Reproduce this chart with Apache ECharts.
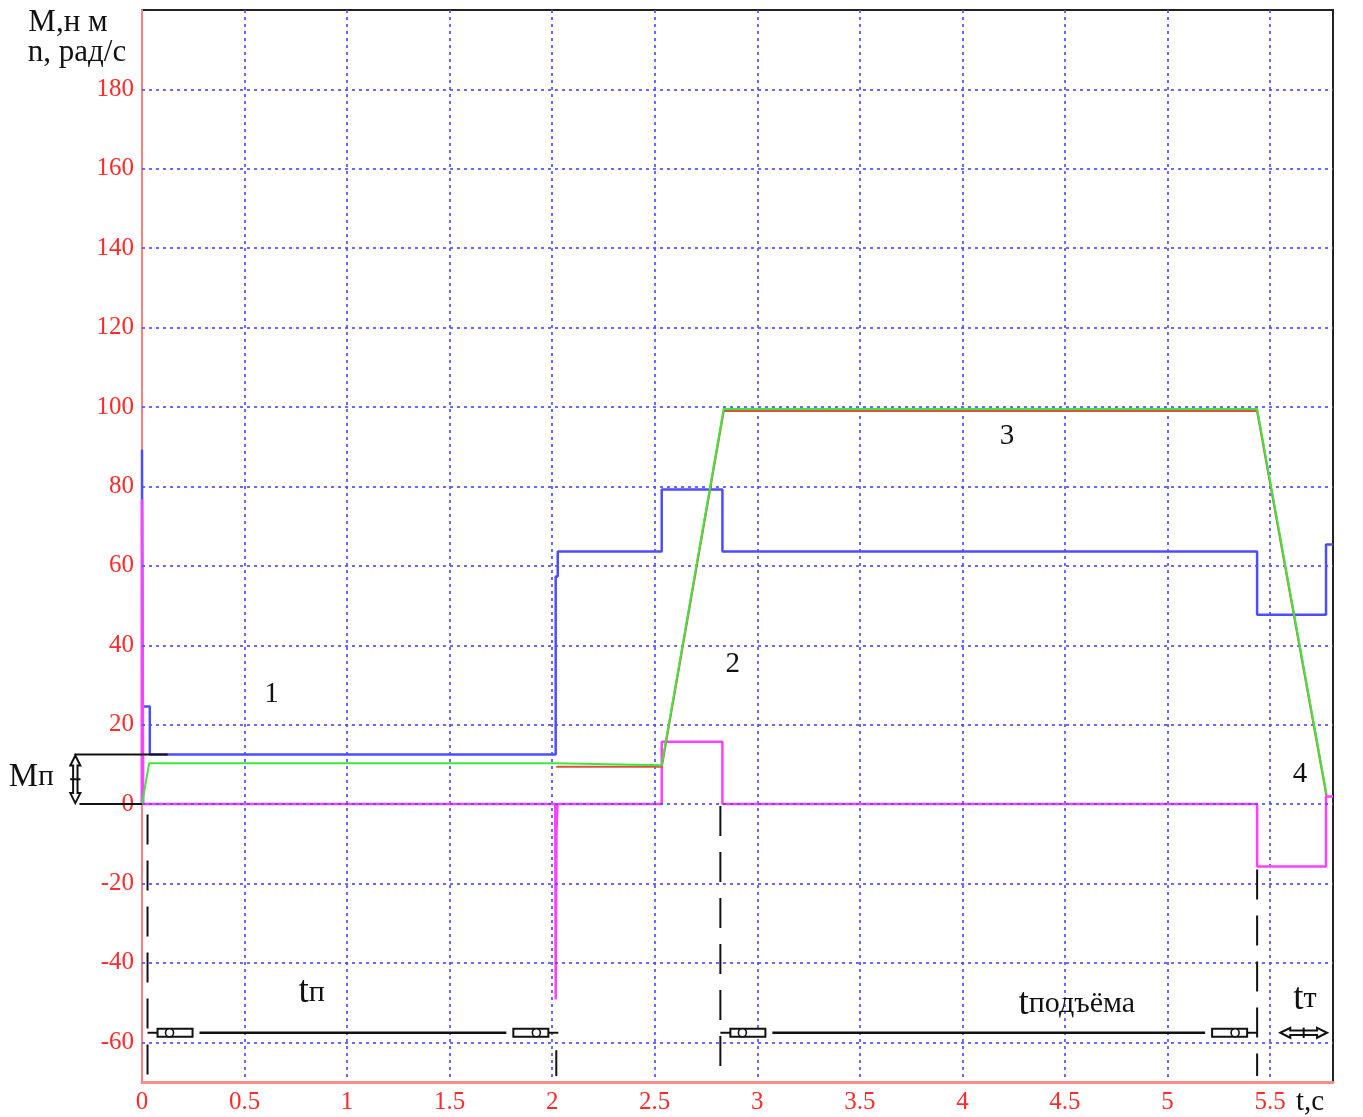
<!DOCTYPE html>
<html>
<head>
<meta charset="utf-8">
<script src="https://cdn.jsdelivr.net/npm/echarts@6/dist/echarts.min.js"></script>
<style>
  html, body { margin: 0; padding: 0; background: #fff; }
  #chart { width: 1363px; height: 1117px; }
</style>
</head>
<body>
<div id="chart"></div>
<script>
// Axis ticks: time t (s) and torque / speed values
const timeTicks = [0, 0.5, 1, 1.5, 2, 2.5, 3, 3.5, 4, 4.5, 5, 5.5];
const valueTicks = [-60, -40, -20, 0, 20, 40, 60, 80, 100, 120, 140, 160, 180];

// Motor torque M (blue)
const torqueT = [0, 0, 0.003, 0.038, 0.038, 2.017, 2.017, 2.027, 2.027, 2.534, 2.534, 2.83, 2.83, 5.437, 5.437, 5.773, 5.773, 5.807];
const torqueV = [0, 89.3, 24.6, 24.6, 12.5, 12.5, 57.3, 57.3, 63.6, 63.6, 79.2, 79.2, 63.6, 63.6, 47.7, 47.7, 65.4, 65.4];

// Angular speed n (green) and set-point speed (red)
const speedT = [0, 0.035, 2.017, 2.02, 2.534, 2.836, 5.437, 5.775];
const speedV = [0, 10.3, 10.3, 9.8, 9.8, 99.5, 99.5, 2.6];
const refSpeedT = [2.02, 2.534, 2.836, 5.437, 5.775];
const refSpeedV = [9.4, 9.4, 99.0, 99.0, 2.2];

// Dynamic torque (magenta)
const dynT = [0, 0, 0.006, 2.015, 2.017, 2.021, 2.026, 2.026, 2.534, 2.534, 2.83, 2.83, 5.437, 5.437, 5.773, 5.773, 5.807];
const dynV = [0, 76.7, 0, 0, -49.2, -6.4, -6.4, 0, 0, 15.7, 15.7, 0, 0, -15.7, -15.7, 1.9, 1.9];

// Dashed guide lines: time, upper and lower value
const guideT = [0.027, 2.02, 2.82, 5.437];
const guideTop = [-2.6, -62.0, -0.5, -16.5];
const guideBottom = [-68.5, -68.5, -69.5, -68.5];

// Interval arrows (tп, tподъёма, tт): start, end, level
const spanStart = [0.027, 2.82, 5.55];
const spanEnd = [2.03, 5.437, 5.778];
const spanLevel = [-57.6, -57.6, -57.6];

// Static torque bracket Mп: from, to, level
const mpFrom = [-0.33, -0.305];
const mpTo = [0.125, 0];
const mpLevel = [12.5, 0];

// Text notes
const noteText = ['1', '2', '3', '4', '{a|t}{b|п}', '{a|t}{b|подъёма}', '{a|t}{b|т}', '{m|М}{n|п}', 't,c'];
const noteT = [0.632, 2.88, 4.217, 5.646, 0.827, 4.558, 5.67, -0.54, 5.695];
const noteV = [27.6, 35.2, 92.6, 7.4, -47.5, -50.5, -49.2, 6.7, -75.2];

const SERIF = '"Liberation Serif", "DejaVu Serif", serif';
const GRID_BLUE = 'rgba(80, 80, 255, 0.85)';

const zip = (xs, ys) => xs.map((x, i) => [x, ys[i]]);

const chart = echarts.init(document.getElementById('chart'), null, { renderer: 'canvas' });

function doubleArrow(x1, y1, x2, y2) {
  // hollow double-headed arrow between two pixel points
  const dx = x2 - x1, dy = y2 - y1;
  const len = Math.hypot(dx, dy);
  const ux = dx / len, uy = dy / len;
  const nx = -uy, ny = ux;
  const head = 10, hw = 5, sw = 2.2;
  const P = (a, b) => [x1 + ux * a + nx * b, y1 + uy * a + ny * b];
  const pts = [P(0, 0), P(head, -hw), P(head, -sw), P(len - head, -sw), P(len - head, -hw), P(len, 0),
               P(len - head, hw), P(len - head, sw), P(head, sw), P(head, hw)];
  const m1 = P(len / 2, -sw - 3), m2 = P(len / 2, sw + 3);
  return [
    { type: 'polygon', shape: { points: pts }, style: { fill: '#fff', stroke: '#111', lineWidth: 2 } },
    { type: 'line', shape: { x1: m1[0], y1: m1[1], x2: m2[0], y2: m2[1] }, style: { stroke: '#111', lineWidth: 2 } }
  ];
}

function blockEnd(tip, y, dir) {
  // small hollow block arrow pointing towards `tip` (dir = +1 points left, -1 points right)
  const els = [];
  const a = tip + dir * 10, b = tip + dir * 45;
  els.push({ type: 'line', shape: { x1: tip, y1: y, x2: a, y2: y }, style: { stroke: '#111', lineWidth: 2 } });
  els.push({ type: 'rect', shape: { x: Math.min(a, b), y: y - 4, width: 35, height: 8 },
             style: { fill: '#fff', stroke: '#111', lineWidth: 2 } });
  els.push({ type: 'circle', shape: { cx: tip + dir * 22, cy: y, r: 4 },
             style: { fill: '#fff', stroke: '#111', lineWidth: 1.6 } });
  return els;
}

const option = {
  animation: false,
  backgroundColor: '#fff',
  grid: {
    left: 142, right: 30, top: 10, bottom: 35,
    show: true, borderColor: '#222', borderWidth: 2, backgroundColor: 'transparent'
  },
  xAxis: {
    type: 'value', min: 0, max: 5.807, interval: 0.5,
    axisLine: { show: true, onZero: false, lineStyle: { color: '#ff8a8a', width: 3 } },
    axisTick: { show: false },
    axisLabel: {
      color: '#ff2a2a', fontFamily: SERIF, fontSize: 25, margin: 8,
      showMaxLabel: false,
      formatter: v => (timeTicks.some(t => Math.abs(t - v) < 1e-6) ? String(v) : '')
    },
    splitLine: { show: true, showMinLine: false, showMaxLine: false,
                 lineStyle: { color: GRID_BLUE, width: 2, type: [3, 4] } }
  },
  yAxis: {
    type: 'value', min: -70, max: 200, interval: 10,
    axisLine: { show: true, onZero: false, lineStyle: { color: '#ff8080', width: 2 } },
    axisTick: { show: false },
    axisLabel: {
      color: '#ff2a2a', fontFamily: SERIF, fontSize: 25, margin: 8,
      formatter: v => (valueTicks.indexOf(v) >= 0 ? String(v) : '')
    },
    splitLine: { show: false }
  },
  graphic: [
    { type: 'text', x: 68, y: 23, style: { text: 'M,н м', font: '31px ' + SERIF, fill: '#111', align: 'center', verticalAlign: 'middle' } },
    { type: 'text', x: 77, y: 53, style: { text: 'n, рад/с', font: '31px ' + SERIF, fill: '#111', align: 'center', verticalAlign: 'middle' } }
  ],
  series: [
    {
      // horizontal grid
      type: 'line', data: [], z: 1, silent: true,
      markLine: {
        silent: true, symbol: ['none', 'none'], label: { show: false },
        lineStyle: { color: GRID_BLUE, width: 2, type: [3, 4] },
        data: valueTicks.map(v => ({ yAxis: v }))
      }
    },
    {
      name: 'M', type: 'line', z: 3, data: zip(torqueT, torqueV),
      symbol: 'none', lineStyle: { color: '#4d4dff', width: 2.5 }
    },
    {
      name: 'Mдин', type: 'line', z: 4, data: zip(dynT, dynV),
      symbol: 'none', lineStyle: { color: '#ff40ff', width: 2.5 }
    },
    {
      name: 'n0', type: 'line', z: 5, data: zip(refSpeedT, refSpeedV),
      symbol: 'none', lineStyle: { color: '#e0503c', width: 2.2 }
    },
    {
      name: 'n', type: 'line', z: 6, data: zip(speedT, speedV),
      symbol: 'none', lineStyle: { color: '#3ee63e', width: 2 }
    },
    {
      // dashed guide lines
      type: 'custom', z: 7, clip: false, silent: true,
      data: guideT.map((t, i) => [t, guideTop[i], guideBottom[i]]),
      renderItem(params, api) {
        const a = api.coord([api.value(0), api.value(1)]);
        const b = api.coord([api.value(0), api.value(2)]);
        return { type: 'line', shape: { x1: a[0], y1: a[1], x2: b[0], y2: b[1] },
                 style: { stroke: '#111', lineWidth: 2, lineDash: [30, 16] } };
      }
    },
    {
      // interval arrows
      type: 'custom', z: 8, clip: false, silent: true,
      data: spanStart.map((t, i) => [t, spanLevel[i], spanEnd[i]]),
      renderItem(params, api) {
        const a = api.coord([api.value(0), api.value(1)]);
        const b = api.coord([api.value(2), api.value(1)]);
        const y = a[1];
        let children;
        if (b[0] - a[0] < 80) {
          children = doubleArrow(a[0], y, b[0], y);
        } else {
          children = [].concat(
            blockEnd(a[0], y, 1),
            blockEnd(b[0], y, -1),
            [{ type: 'line', shape: { x1: a[0] + 52, y1: y, x2: b[0] - 52, y2: y },
               style: { stroke: '#111', lineWidth: 2.5 } }]
          );
        }
        return { type: 'group', children };
      }
    },
    {
      // static torque bracket
      type: 'custom', z: 8, clip: false, silent: true,
      data: mpFrom.map((t, i) => [t, mpLevel[i], mpTo[i]]),
      renderItem(params, api) {
        const a = api.coord([api.value(0), api.value(1)]);
        const b = api.coord([api.value(2), api.value(1)]);
        const children = [{ type: 'line', shape: { x1: a[0], y1: a[1], x2: b[0], y2: b[1] },
                            style: { stroke: '#111', lineWidth: 2 } }];
        if (params.dataIndex === 0) {
          const lo = api.coord([mpFrom[0], mpLevel[1]]);
          children.push.apply(children, doubleArrow(a[0] + 1, a[1] + 1, lo[0] + 1, lo[1] - 1));
        }
        return { type: 'group', children };
      }
    },
    {
      // text notes
      type: 'custom', z: 9, clip: false, silent: true,
      data: noteT.map((t, i) => [t, noteV[i]]),
      renderItem(params, api) {
        const p = api.coord([api.value(0), api.value(1)]);
        return {
          type: 'text', x: p[0], y: p[1],
          style: {
            text: noteText[params.dataIndex],
            font: '29px ' + SERIF, fill: '#111', align: 'center', verticalAlign: 'middle',
            rich: {
              a: { fontSize: 37, fontFamily: SERIF, fill: '#111' },
              b: { fontSize: 30, fontFamily: SERIF, fill: '#111' },
              m: { fontSize: 33, fontFamily: SERIF, fill: '#111' },
              n: { fontSize: 29, fontFamily: SERIF, fill: '#111' }
            }
          }
        };
      }
    }
  ]
};

chart.setOption(option);
</script>
</body>
</html>
